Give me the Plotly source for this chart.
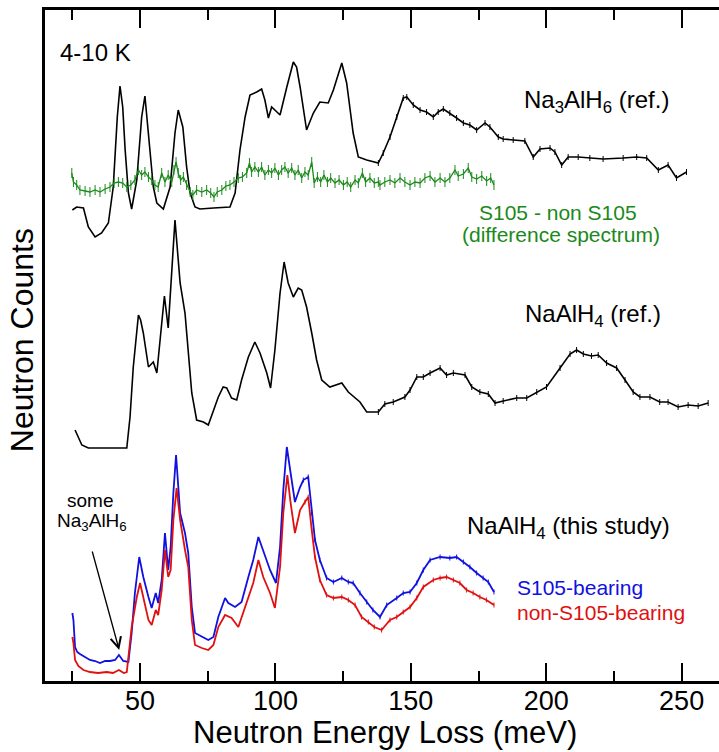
import plotly.graph_objects as go

# ---------------- data (meV, arbitrary offset counts) ----------------
na3_e = [25.0, 26.6, 29.1, 30.9, 33.4, 35.8, 38.3, 40.1, 41.6, 42.6, 43.6, 44.5, 45.7, 46.9, 48.8, 50.6,
         51.8, 53.1, 54.9, 56.2, 58.6, 61.1, 62.9, 64.1, 65.8, 67.2, 68.5, 70.3, 72.1, 77.1, 83.2, 85.1,
         86.9, 88.8, 90.6, 93.1, 94.9, 96.1, 97.4, 98.6, 99.8, 101.7, 104.2, 106.6, 107.8, 109.1, 111.5,
         114.0, 116.4, 119.5, 121.4, 124.5, 126.3, 128.7, 130.6, 133.7, 138.0, 139.8, 142.3, 144.8, 147.2,
         148.5, 150.9, 153.4, 155.8, 158.3, 160.1, 162.0, 164.4, 166.9, 169.4, 171.8, 174.3, 177.4, 179.2,
         182.3, 184.1, 187.8, 192.1, 195.2, 197.7, 201.4, 203.2, 205.7, 208.1, 211.8, 216.1, 221.0, 228.4,
         233.4, 237.1, 241.4, 245.0, 248.1, 251.8]
na3_y = [471, 474, 473, 454, 444, 448, 458, 494, 564, 595, 574, 531, 488, 472, 501, 564,
         585, 548, 494, 478, 472, 494, 548, 571, 554, 514, 488, 474, 472, 473, 474, 488,
         531, 564, 586, 589, 592, 581, 563, 574, 571, 566, 594, 619, 614, 594, 551,
         568, 579, 578, 591, 618, 598, 548, 524, 521, 518, 528, 544, 564, 583,
         584, 576, 571, 569, 564, 569, 572, 568, 563, 558, 556, 551, 558, 554,
         544, 542, 541, 540, 524, 532, 533, 529, 516, 524, 524, 523, 522, 523,
         524, 523, 511, 516, 503, 509]

diff_e = [24.8, 25.4, 26.6, 27.8, 29.7, 31.5, 33.4, 35.2, 37.1, 38.9, 40.4, 42.0, 43.6, 45.1, 46.6, 48.1,
          49.4, 50.6, 51.8, 53.1, 54.3, 55.5, 56.7, 58.0, 59.2, 60.4, 61.7, 62.5, 63.3, 64.1, 65.0, 66.0,
          67.2, 68.5, 69.5, 70.9, 72.8, 74.6, 76.1, 77.3, 78.5, 80.2, 81.7, 83.2, 84.7, 86.3, 87.8, 89.4,
          90.4, 91.2, 92.4, 93.7, 94.9, 96.1, 97.4, 98.6, 99.8, 101.1, 102.3, 103.5, 104.7, 106.0, 107.2,
          108.4, 109.7, 110.9, 112.1, 113.4, 114.3, 115.5, 116.7, 117.9, 119.2, 120.4, 122.0, 123.5, 125.1,
          126.5, 127.8, 129.4, 130.6, 132.1, 133.3, 134.9, 136.5, 138.0, 138.6, 140.4, 142.3, 144.1, 146.0,
          147.8, 149.7, 151.5, 153.4, 155.2, 157.1, 158.9, 160.8, 162.6, 164.4, 166.3, 167.5, 169.4, 171.2,
          172.5, 174.3, 176.2, 178.0, 179.5, 180.7]
diff_y = [508, 499, 496, 491, 490, 489, 491, 489, 492, 494, 498, 499, 498, 494, 496, 501,
          511, 506, 509, 504, 501, 496, 494, 508, 499, 506, 499, 511, 519, 508, 501, 504,
          496, 489, 486, 491, 489, 491, 488, 484, 489, 491, 495, 496, 499, 503, 504, 508,
          518, 509, 514, 509, 514, 506, 511, 508, 513, 506, 511, 514, 508, 513, 506,
          511, 503, 509, 506, 519, 498, 504, 499, 506, 499, 503, 498, 501, 496,
          499, 494, 501, 498, 508, 499, 503, 498, 499, 496, 499, 501, 498, 503,
          499, 496, 499, 498, 503, 505, 499, 503, 499, 503, 511, 505, 507, 513,
          504, 502, 505, 500, 503, 496]

naref_e = [26.0, 26.8, 28.5, 30.9, 35.2, 40.1, 45.1, 46.3, 47.5, 49.4, 50.2, 51.2, 53.1, 54.9, 56.2, 57.4,
           59.0, 60.4, 61.7, 62.9, 63.8, 64.8, 66.6, 67.8, 69.1, 70.9, 73.4, 75.2, 77.1, 78.9, 80.7, 82.0,
           83.8, 85.7, 87.5, 90.0, 92.4, 94.3, 96.8, 98.2, 99.8, 101.7, 103.2, 104.7, 106.6, 108.4, 109.7,
           111.5, 113.4, 115.2, 117.1, 120.1, 124.5, 126.9, 131.2, 133.7, 138.0, 140.4, 143.5, 147.8, 149.7,
           152.2, 154.6, 157.1, 160.8, 163.2, 165.7, 170.0, 172.5, 175.5, 178.6, 181.1, 184.1, 189.1, 192.8,
           196.5, 200.1, 205.1, 208.8, 211.2, 213.7, 216.7, 219.2, 222.3, 226.0, 229.1, 232.1, 234.6, 238.3,
           241.9, 245.0, 248.7, 252.4, 256.1, 259.8]
naref_y = [251, 246, 236, 233, 233, 233, 233, 264, 314, 366, 361, 348, 314, 319, 308, 341,
           385, 353, 414, 461, 431, 398, 368, 331, 288, 261, 259, 256, 271, 284, 294, 293,
           283, 281, 301, 324, 339, 328, 308, 293, 331, 388, 419, 398, 384, 393, 391,
           374, 348, 321, 301, 294, 298, 289, 279, 269, 269, 277, 279, 284, 291,
           304, 304, 308, 313, 306, 308, 306, 294, 289, 287, 278, 280, 283, 283,
           289, 294, 313, 327, 331, 327, 325, 326, 318, 313, 301, 289, 284, 284,
           279, 279, 274, 276, 275, 278]

s105_e = [25.0, 25.4, 26.0, 26.8, 27.8, 29.7, 31.5, 33.4, 35.2, 37.1, 38.9, 40.8, 42.2, 43.8, 45.7, 46.9,
          48.1, 49.7, 51.2, 53.1, 54.3, 55.8, 56.7, 58.0, 59.2, 60.4, 61.3, 62.3, 63.3, 64.8, 66.6, 67.8,
          69.1, 70.3, 72.8, 75.2, 77.1, 78.9, 81.4, 82.6, 85.1, 87.5, 90.0, 91.8, 93.7, 95.5, 98.0, 100.2,
          101.7, 102.9, 104.2, 105.6, 107.2, 109.1, 110.3, 112.1, 113.4, 114.6, 116.4, 118.9, 121.4, 124.5,
          126.9, 128.7, 131.2, 133.7, 136.0, 138.6, 141.1, 144.8, 147.2, 149.7, 152.2, 154.6, 157.1, 160.8,
          164.4, 166.9, 169.4, 171.8, 174.3, 176.7, 178.6, 180.7]
s105_y = [68, 61, 34, 29, 27, 24, 21, 20, 18, 20, 20, 21, 26, 20, 19, 48,
          88, 124, 104, 84, 73, 88, 78, 101, 148, 111, 134, 188, 226, 168, 148, 128,
          74, 48, 44, 41, 44, 64, 83, 78, 74, 79, 104, 121, 144, 131, 111, 98,
          134, 191, 234, 208, 179, 194, 201, 204, 168, 141, 121, 103, 99, 103,
          99, 98, 88, 79, 71, 64, 76, 83, 88, 89, 98, 111, 121, 124,
          123, 124, 119, 114, 108, 103, 99, 89]

non_e = [25.0, 25.4, 26.0, 27.2, 29.1, 31.5, 34.5, 37.7, 40.0, 42.2, 44.0, 45.1, 46.9, 48.8, 50.0, 51.5,
         53.1, 54.3, 55.8, 56.7, 58.0, 59.2, 60.4, 61.3, 62.3, 63.5, 64.8, 66.6, 67.8, 69.1, 70.3, 72.8,
         75.2, 77.1, 78.9, 81.4, 83.8, 86.3, 88.1, 90.0, 91.8, 93.7, 95.5, 98.0, 99.8, 101.7, 102.9,
         104.4, 105.6, 107.2, 109.1, 110.9, 112.1, 113.4, 114.6, 116.4, 118.9, 121.4, 124.5, 126.9, 129.4,
         131.8, 134.3, 136.5, 139.2, 142.3, 144.8, 147.2, 149.7, 152.2, 154.6, 158.3, 160.8, 163.2, 165.7,
         168.1, 170.6, 173.0, 175.5, 177.9, 180.7]
non_y = [44, 38, 21, 15, 11, 9, 8, 9, 8, 11, 8, 9, 54, 84, 98, 81,
         61, 56, 71, 66, 91, 131, 104, 111, 161, 193, 161, 131, 114, 61, 36, 33,
         31, 36, 54, 66, 63, 54, 68, 84, 98, 121, 104, 88, 73, 114, 168,
         206, 178, 148, 171, 179, 184, 151, 124, 101, 86, 83, 84, 81, 76,
         64, 59, 54, 51, 61, 64, 69, 74, 83, 94, 101, 103, 104, 101,
         98, 91, 88, 84, 81, 76]

x_major = [50, 100, 150, 200, 250]
x_minor = [25, 75, 125, 175, 225]

FONT = "Liberation Sans, Arial, Helvetica, sans-serif"


def errs(xs, start, val):
    return [val if e >= start else 0 for e in xs]


fig = go.Figure()

fig.add_trace(go.Scatter(x=na3_e, y=na3_y, mode="lines", line=dict(color="black", width=1.6),
                         error_y=dict(type="data", array=errs(na3_e, 135, 3), thickness=1, width=0,
                                      color="black")))
fig.add_trace(go.Scatter(x=diff_e, y=diff_y, mode="lines", line=dict(color="#1a8a1a", width=1.3),
                         error_y=dict(type="data", array=errs(diff_e, 0, 5), thickness=1, width=0,
                                      color="#1a8a1a")))
fig.add_trace(go.Scatter(x=naref_e, y=naref_y, mode="lines", line=dict(color="black", width=1.6),
                         error_y=dict(type="data", array=errs(naref_e, 135, 3), thickness=1, width=0,
                                      color="black")))
fig.add_trace(go.Scatter(x=s105_e, y=s105_y, mode="lines", line=dict(color="#1010e0", width=1.8),
                         error_y=dict(type="data", array=errs(s105_e, 110, 2.5), thickness=1, width=0,
                                      color="#1010e0")))
fig.add_trace(go.Scatter(x=non_e, y=non_y, mode="lines", line=dict(color="#e01010", width=1.8),
                         error_y=dict(type="data", array=errs(non_e, 110, 2.5), thickness=1, width=0,
                                      color="#e01010")))

ann = []


def txt(x, y, s, size, color="black", xanchor="left"):
    ann.append(dict(x=x, y=y, xref="x", yref="y", text=s, showarrow=False, xanchor=xanchor,
                    yanchor="middle", font=dict(family=FONT, size=size, color=color)))


txt(19.8, 629, "4-10 K", 24)
txt(190.9, 580, "Na<sub>3</sub>AlH<sub>6</sub> (ref.)", 24)
txt(204.5, 469, "S105 - non S105", 21, "#1a8a1a", "center")
txt(205.4, 447, "(difference spectrum)", 21, "#1a8a1a", "center")
txt(191.4, 366, "NaAlH<sub>4</sub> (ref.)", 24)
txt(170.0, 154, "NaAlH<sub>4</sub> (this study)", 24)
txt(188.4, 94, "S105-bearing", 21, "#1010e0")
txt(188.4, 69, "non-S105-bearing", 21, "#e01010")
txt(31.5, 181, "some", 19, "black", "center")
txt(32.1, 159, "Na<sub>3</sub>AlH<sub>6</sub>", 19, "black", "center")

ann.append(dict(x=42.3, y=31, ax=32.2, ay=131, xref="x", yref="y", axref="x", ayref="y",
                showarrow=True, arrowhead=5, arrowsize=1.6, arrowwidth=1.3, arrowcolor="black", text=""))

ann.append(dict(x=0.504, y=-0.077, xref="paper", yref="paper", text="Neutron Energy Loss (meV)",
                showarrow=False, xanchor="center", yanchor="middle",
                font=dict(family=FONT, size=31, color="black")))
ann.append(dict(x=-0.034, y=0.508, xref="paper", yref="paper", text="Neutron Counts", textangle=-90,
                showarrow=False, xanchor="center", yanchor="middle",
                font=dict(family=FONT, size=32, color="black")))

fig.update_layout(
    width=719, height=752,
    margin=dict(l=45, r=0, t=10, b=71, autoexpand=False),
    plot_bgcolor="white", paper_bgcolor="white",
    showlegend=False,
    annotations=ann,
    xaxis=dict(range=[14.9, 263.8], showline=True, linecolor="black", linewidth=2.5, mirror="ticks",
               ticks="inside", ticklen=18, tickwidth=2, tickcolor="black", tickvals=x_major,
               tickfont=dict(family=FONT, size=27, color="black"), showgrid=False, zeroline=False,
               ticklabelstandoff=-6, automargin=False,
               minor=dict(ticks="inside", ticklen=10, tickwidth=2, tickcolor="black", tickvals=x_minor,
                          showgrid=False)),
    yaxis=dict(range=[0, 671], showline=True, linecolor="black", linewidth=2.5, showticklabels=False,
               ticks="", showgrid=False, zeroline=False, automargin=False),
)

fig.write_html("out.html", config={"displayModeBar": False},
               post_script="document.body.style.margin='0px';document.body.style.overflow='hidden';")
